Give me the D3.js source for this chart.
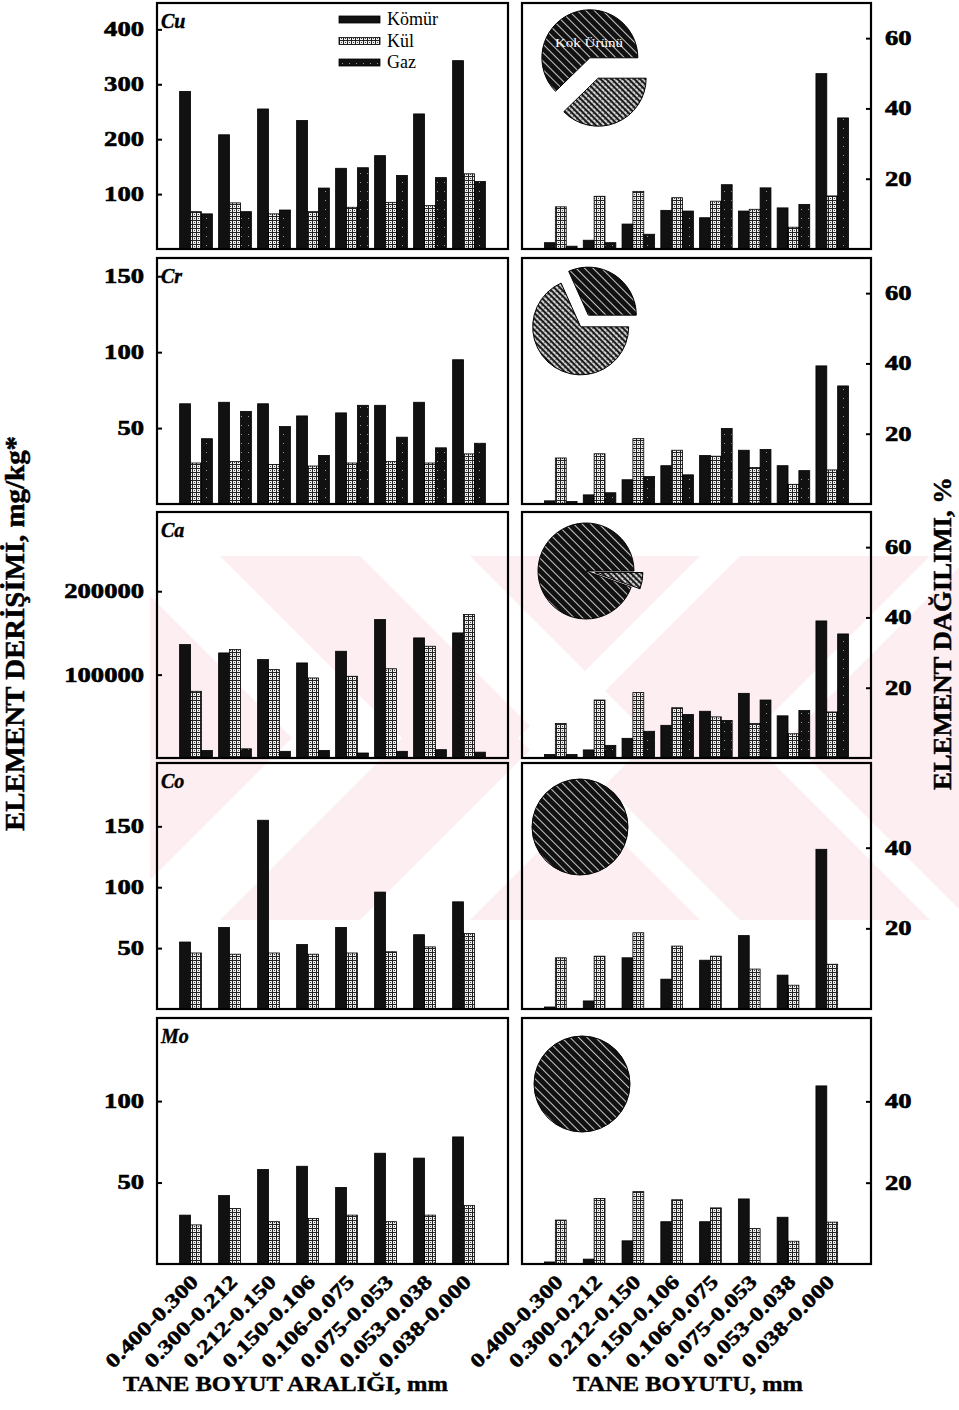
<!DOCTYPE html>
<html>
<head>
<meta charset="utf-8">
<script src="https://cdn.jsdelivr.net/npm/d3@7"></script>
<style>
  body { margin: 0; background: #fff; }
  text { font-family: "Liberation Serif", "Times New Roman", serif; }
</style>
</head>
<body>
<script>

// tane boyut aralıkları, mm
var sizeRanges = ["0.400-0.300", "0.300-0.212", "0.212-0.150", "0.150-0.106",
                  "0.106-0.075", "0.075-0.053", "0.053-0.038", "0.038-0.000"];
var seriesNames = ["Kömür", "Kül", "Gaz"];
var elements = ["Cu", "Cr", "Ca", "Co", "Mo"];

// element derişimi, mg/kg  [Kömür, Kül, Gaz]
var cuConc = [[287, 208, 255, 234, 147, 170, 246, 343], [68, 84, 64, 68, 76, 85, 79, 137], [64, 68, 71, 111, 148, 134, 130, 123]];
var crConc = [[66, 67, 66, 58, 60, 65, 67, 95], [27, 28, 26, 25, 27, 28, 27, 33], [43, 61, 51, 32, 65, 44, 37, 40]];
var caConc = [[136000, 126000, 118000, 114000, 128000, 166000, 144000, 150000],
              [80000, 130000, 106000, 96000, 98000, 107000, 134000, 172000],
              [9000, 11000, 8000, 9000, 6000, 8000, 10000, 7000]];
var coConc = [[55, 67, 155, 53, 67, 96, 61, 88], [46, 45, 46, 45, 46, 47, 51, 62], []];
var moConc = [[30, 42, 58, 60, 47, 68, 65, 78], [24, 34, 26, 28, 30, 26, 30, 36], []];

// element dağılımı, %  [Kömür, Kül, Gaz]
var cuDist = [[1.8, 2.5, 7.1, 11, 8.9, 10.8, 11.7, 49.9], [12, 15, 16.4, 14.6, 13.6, 11.3, 6.2, 15.1], [0.8, 1.8, 4.2, 10.8, 18.3, 17.4, 12.7, 37.3]];
var crDist = [[0.9, 2.6, 6.9, 10.9, 13.8, 15.3, 10.9, 39.3], [13.1, 14.3, 18.6, 15.3, 13.6, 10.4, 5.6, 9.7], [0.7, 3.2, 7.8, 8.3, 21.5, 15.5, 9.5, 33.6]];
var caDist = [[1, 2.3, 5.6, 9.3, 13.3, 18.4, 12, 39], [9.8, 16.5, 18.6, 14.3, 11.7, 9.8, 6.9, 13.1], [1, 3.6, 7.6, 12.4, 10.7, 16.5, 13.5, 35.3]];
var coDist = [[0.5, 2, 12.7, 7.4, 12.1, 18.2, 8.4, 39.6], [12.7, 13.1, 18.9, 15.6, 13.1, 9.9, 5.9, 11.1], []];
var moDist = [[0.5, 1.2, 5.7, 10.4, 10.4, 16, 11.5, 43.8], [10.8, 16.1, 17.8, 15.8, 13.8, 8.7, 5.6, 10.3], []];

// pasta grafikler: [Kül, Gaz] payı
var pieShares = [[0.377, 0.623], [0.683, 0.317], [0.055, 0.945], [0, 1], [0, 1]];

// eksenler
var concMax = [448, 162, 295000, 202, 151];
var distMax = [70, 70, 70, 61, 60.5];
var concTicks = [[100, 200, 300, 400], [50, 100, 150], [100000, 200000], [50, 100, 150], [50, 100]];
var distTicks = [[20, 40, 60], [20, 40, 60], [20, 40, 60], [20, 40], [20, 40]];

var concData = [cuConc, crConc, caConc, coConc, moConc];
var distData = [cuDist, crDist, caDist, coDist, moDist];

// ---- layout ----
var W = 959, H = 1410;
var rowTop = [3, 258, 512, 763, 1018], panelH = 246;
var leftX = [157, 508], rightX = [522, 871];
var pieCenter = [[72, 65], [62.5, 63], [64, 59], [58, 64], [60, 66]];
var pieExplode = [[11, 11], [7, 7], [9, 0], [0, 0], [0, 0]];
var pieR = 48;
var barW = 0.28;
var sx = 1.33; // tick yazıları biraz geniş

var svg = d3.select("body").append("svg")
    .attr("width", W)
    .attr("height", H);

svg.append("rect").attr("width", W).attr("height", H).attr("fill", "#fff");

var defs = svg.append("defs");

// Kül: açık zemin, koyu ızgara
var pKul = defs.append("pattern").attr("id", "kul")
    .attr("width", 4).attr("height", 4).attr("patternUnits", "userSpaceOnUse");
pKul.append("rect").attr("width", 4).attr("height", 4).attr("fill", "#eee");
pKul.append("rect").attr("width", 4).attr("height", 1).attr("fill", "#222");
pKul.append("rect").attr("width", 1).attr("height", 4).attr("fill", "#222");
pKul.append("rect").attr("x", 2).attr("y", 2).attr("width", 1).attr("height", 1).attr("fill", "#444");

// Gaz: siyah, seyrek noktalar
var pGaz = defs.append("pattern").attr("id", "gaz")
    .attr("width", 7).attr("height", 9).attr("patternUnits", "userSpaceOnUse");
pGaz.append("rect").attr("width", 7).attr("height", 9).attr("fill", "#111");
pGaz.append("rect").attr("x", 3).attr("y", 2).attr("width", 1).attr("height", 1).attr("fill", "#999");

// pasta desenleri
var pDark = defs.append("pattern").attr("id", "pieDark")
    .attr("width", 6).attr("height", 6).attr("patternUnits", "userSpaceOnUse")
    .attr("patternTransform", "rotate(-45)");
pDark.append("rect").attr("width", 6).attr("height", 6).attr("fill", "#111");
pDark.append("rect").attr("x", 0).attr("width", 0.9).attr("height", 6).attr("fill", "#ddd");

var pLight = defs.append("pattern").attr("id", "pieLight")
    .attr("width", 4).attr("height", 4).attr("patternUnits", "userSpaceOnUse")
    .attr("patternTransform", "rotate(-45)");
pLight.append("rect").attr("width", 4).attr("height", 4).attr("fill", "#d6d6d6");
pLight.append("rect").attr("width", 2).attr("height", 4).attr("fill", "#1c1c1c");
pLight.append("rect").attr("x", 2.8).attr("y", 1).attr("width", 1).attr("height", 1.2).attr("fill", "#333");

// soluk pembe filigran (arka plan)
var wm = svg.append("g");
var wmTop = 556, wmBot = 920, wmMid = (wmTop + wmBot) / 2, wmHalf = (wmBot - wmTop) / 2;
defs.append("clipPath").attr("id", "wmClip")
    .append("rect").attr("x", 150).attr("y", wmTop).attr("width", W - 150).attr("height", wmBot - wmTop);
var wmg = wm.append("g").attr("clip-path", "url(#wmClip)");
wmg.append("rect").attr("x", 150).attr("y", wmTop).attr("width", W - 150).attr("height", wmBot - wmTop)
    .attr("fill", "#fdeef1");
[110, 360].forEach(function (a) {
    wmg.append("path")
        .attr("d", "M" + a + "," + wmTop + " L" + (a + wmHalf) + "," + wmMid + " L" + a + "," + wmBot +
            " L" + (a + 110) + "," + wmBot + " L" + (a + 110 + wmHalf) + "," + wmMid + " L" + (a + 110) + "," + wmTop + "Z")
        .attr("fill", "#fff");
});
[700, 930].forEach(function (a) {
    wmg.append("path")
        .attr("d", "M" + a + "," + wmTop + " L" + (a - wmHalf) + "," + wmMid + " L" + a + "," + wmBot +
            " L" + (a + 40) + "," + wmBot + " L" + (a + 40 - wmHalf) + "," + wmMid + " L" + (a + 40) + "," + wmTop + "Z")
        .attr("fill", "#fff");
});

var fills = ["#111", "url(#kul)", "url(#gaz)"];

function drawPanel(x0, x1, top, data, yMax, ticks, side) {
    var g = svg.append("g");
    var x = d3.scaleLinear().domain([0, 9]).range([x0, x1]);
    var y = d3.scaleLinear().domain([0, yMax]).range([top + panelH, top]);
    var bw = x(barW) - x(0);

    data.forEach(function (vals, s) {
        g.selectAll("rect.s" + s)
            .data(vals)
            .enter().append("rect")
            .attr("class", "s" + s)
            .attr("x", function (d, i) { return x(i + 1 + (s - 1) * barW) - bw / 2; })
            .attr("y", function (d) { return y(d); })
            .attr("width", bw)
            .attr("height", function (d) { return y(0) - y(d); })
            .attr("fill", fills[s])
            .attr("stroke", "#000")
            .attr("stroke-width", 0.8);
    });

    g.append("rect")
        .attr("x", x0).attr("y", top)
        .attr("width", x1 - x0).attr("height", panelH)
        .attr("fill", "none").attr("stroke", "#000").attr("stroke-width", 2.2);

    var axis = side === "left" ? d3.axisLeft(y) : d3.axisRight(y);
    axis.tickValues(ticks).tickSizeInner(-5).tickSizeOuter(0).tickPadding(side === "left" ? 13 : 14)
        .tickFormat(d3.format("d"));
    var ag = g.append("g")
        .attr("transform", "translate(" + (side === "left" ? x0 : x1) + ",0)")
        .call(axis);
    ag.select(".domain").remove();
    ag.selectAll("line").attr("stroke", "#000").attr("stroke-width", 2);
    ag.selectAll("text")
        .attr("font-size", 20)
        .attr("font-weight", "bold")
        .attr("fill", "#000")
        .attr("stroke", "#000").attr("stroke-width", 0.6)
        .attr("x", (side === "left" ? -13 : 14) / sx)
        .attr("transform", "scale(" + sx + ",1)");
    return x;
}

var pie = d3.pie().sort(null).value(function (d) { return d; })
    .startAngle(Math.PI / 2).endAngle(Math.PI / 2 + 2 * Math.PI);
var arc = d3.arc().innerRadius(0).outerRadius(pieR);

elements.forEach(function (el, k) {
    var top = rowTop[k];
    var xl = drawPanel(leftX[0], leftX[1], top, concData[k], concMax[k], concTicks[k], "left");
    var xr = drawPanel(rightX[0], rightX[1], top, distData[k], distMax[k], distTicks[k], "right");

    svg.append("text")
        .attr("x", leftX[0] + 4).attr("y", top + 25)
        .attr("font-size", 20).attr("font-weight", "bold").attr("font-style", "italic")
        .attr("stroke", "#000").attr("stroke-width", 0.4)
        .text(el);

    // pasta
    var c = pieCenter[k];
    var pg = svg.append("g")
        .attr("transform", "translate(" + (rightX[0] + c[0]) + "," + (top + c[1]) + ")");
    pg.selectAll("path")
        .data(pie(pieShares[k]).filter(function (d) { return d.value > 0; }))
        .enter().append("path")
        .attr("transform", function (d) {
            var a = (d.startAngle + d.endAngle) / 2, e = pieExplode[k][d.index];
            return "translate(" + (Math.sin(a) * e) + "," + (-Math.cos(a) * e) + ")";
        })
        .attr("d", arc)
        .attr("fill", function (d) { return d.index === 0 ? "url(#pieLight)" : "url(#pieDark)"; })
        .attr("stroke", "#000").attr("stroke-width", 1);

    if (k === 0) {
        pg.append("text")
            .attr("x", -5).attr("y", -21)
            .attr("text-anchor", "middle")
            .attr("font-size", 13).attr("fill", "#fff")
            .attr("textLength", 68).attr("lengthAdjust", "spacingAndGlyphs")
            .text("Kok Ürünü");
    }

    if (k === elements.length - 1) {
        [xl, xr].forEach(function (xs) {
            var xa = d3.axisBottom(xs).tickValues(d3.range(1, 9)).tickSize(0)
                .tickFormat(function (d) { return sizeRanges[d - 1]; });
            var bg = svg.append("g")
                .attr("transform", "translate(0," + (top + panelH) + ")")
                .call(xa);
            bg.select(".domain").remove();
            bg.selectAll("text")
                .attr("x", 0).attr("y", 0).attr("dy", 0)
                .attr("text-anchor", "end")
                .attr("transform", "translate(3,19) rotate(-45)")
                .attr("font-size", 20).attr("font-weight", "bold").attr("fill", "#000")
                .attr("stroke", "#000").attr("stroke-width", 0.5)
                .attr("textLength", 122).attr("lengthAdjust", "spacingAndGlyphs");
        });
    }
});

// legend (Cu paneli)
var leg = svg.append("g").attr("transform", "translate(339,16)");
seriesNames.forEach(function (n, i) {
    leg.append("rect")
        .attr("x", 0).attr("y", i * 21.5)
        .attr("width", 41).attr("height", 7)
        .attr("fill", fills[i]).attr("stroke", "#000").attr("stroke-width", 0.8);
    leg.append("text")
        .attr("x", 48).attr("y", i * 21.5 + 9)
        .attr("font-size", 18)
        .text(n);
});

// eksen başlıkları
var midY = (rowTop[0] + rowTop[4] + panelH) / 2;
svg.append("text")
    .attr("transform", "translate(24," + midY + ") rotate(-90)")
    .attr("text-anchor", "middle")
    .attr("font-size", 27).attr("font-weight", "bold")
    .attr("stroke", "#000").attr("stroke-width", 0.5)
    .attr("textLength", 395).attr("lengthAdjust", "spacingAndGlyphs")
    .text("ELEMENT DERİŞİMİ, mg/kg*");

svg.append("text")
    .attr("transform", "translate(951," + midY + ") rotate(-90)")
    .attr("text-anchor", "middle")
    .attr("font-size", 26).attr("font-weight", "bold")
    .attr("stroke", "#000").attr("stroke-width", 0.5)
    .attr("textLength", 313).attr("lengthAdjust", "spacingAndGlyphs")
    .text("ELEMENT DAĞILIMI, %");

svg.append("text")
    .attr("x", 285.5).attr("y", 1391)
    .attr("text-anchor", "middle")
    .attr("font-size", 22).attr("font-weight", "bold")
    .attr("stroke", "#000").attr("stroke-width", 0.4)
    .attr("textLength", 325).attr("lengthAdjust", "spacingAndGlyphs")
    .text("TANE BOYUT ARALIĞI, mm");

svg.append("text")
    .attr("x", 688).attr("y", 1391)
    .attr("text-anchor", "middle")
    .attr("font-size", 22).attr("font-weight", "bold")
    .attr("stroke", "#000").attr("stroke-width", 0.4)
    .attr("textLength", 230).attr("lengthAdjust", "spacingAndGlyphs")
    .text("TANE BOYUTU, mm");

</script>
</body>
</html>
